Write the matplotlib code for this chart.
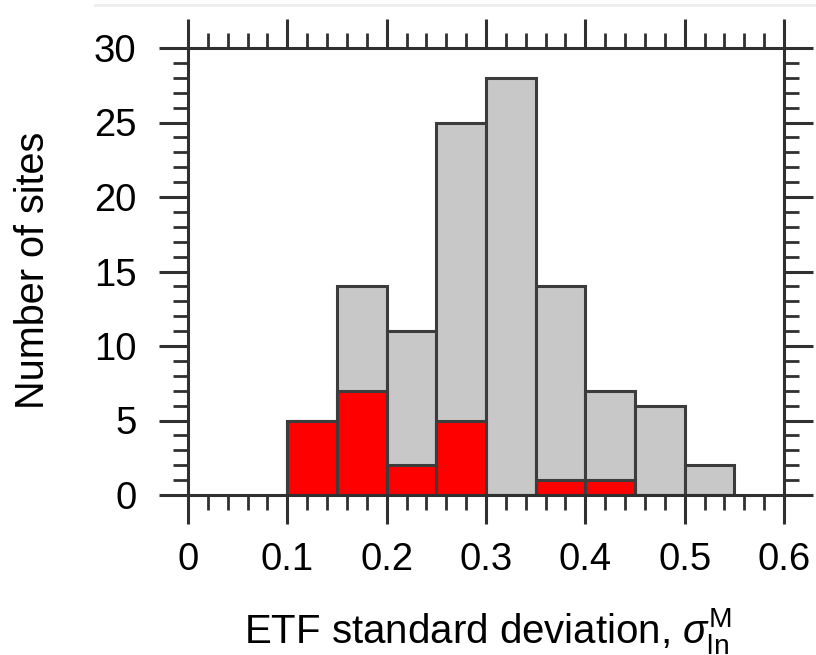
import matplotlib
matplotlib.use("Agg")
import matplotlib.pyplot as plt
from matplotlib.ticker import MultipleLocator, FixedLocator
from matplotlib.lines import Line2D

plt.rcParams['font.family'] = ['Liberation Sans', 'DejaVu Sans']
plt.rcParams['mathtext.fontset'] = 'custom'
plt.rcParams['mathtext.rm'] = 'Liberation Sans'
plt.rcParams['mathtext.it'] = 'Liberation Sans:italic'

# Data
bin_left = [0.10, 0.15, 0.20, 0.25, 0.30, 0.35, 0.40, 0.45, 0.50]
bin_width = 0.05
all_sites = [5, 14, 11, 25, 28, 14, 7, 6, 2]
subset_sites = [5, 7, 2, 5, 0, 1, 1, 0, 0]
xticks = [0, 0.1, 0.2, 0.3, 0.4, 0.5, 0.6]
xticklabels = ['0', '0.1', '0.2', '0.3', '0.4', '0.5', '0.6']
yticks = [0, 5, 10, 15, 20, 25, 30]

W, H = 816, 655
fig = plt.figure(figsize=(W / 100, H / 100), dpi=100)
ax = fig.add_axes([188 / W, 1 - 495 / H, (784 - 188) / W, (495 - 48) / H])

edge = '#3c3c3c'
ax.bar(bin_left, all_sites, width=bin_width, align='edge', color='#c8c8c8',
       edgecolor=edge, linewidth=2.2, zorder=2)
ax.bar(bin_left, subset_sites, width=bin_width, align='edge', color='#ff0000',
       edgecolor=edge, linewidth=2.2, zorder=3)

ax.set_xlim(0, 0.6)
ax.set_ylim(0, 30)
ax.xaxis.set_major_locator(FixedLocator(xticks))
ax.set_xticklabels(xticklabels)
ax.xaxis.set_minor_locator(MultipleLocator(0.02))
ax.yaxis.set_major_locator(FixedLocator(yticks))
ax.yaxis.set_minor_locator(MultipleLocator(1))

for sp in ax.spines.values():
    sp.set_linewidth(2.2)
    sp.set_color('#303030')
    sp.set_zorder(5)

fs = 27.5
ax.tick_params(which='major', direction='out', length=21, width=2.2, color='#303030',
               top=True, right=True, labelsize=fs, pad=13)
ax.tick_params(which='minor', direction='out', length=10.5, width=2.0, color='#303030',
               top=True, right=True)
ax.tick_params(axis='y', which='major', pad=16)

ax.set_xlabel(r'ETF standard deviation, $\sigma_{\mathrm{ln}}^{\mathrm{M}}$', fontsize=29)
ax.set_ylabel('Number of sites', fontsize=28.5)
ax.xaxis.set_label_coords((488 - 188) / (784 - 188), -(631 - 495) / (495 - 48))
ax.yaxis.set_label_coords(-(188 - 33) / (784 - 188), (495 - 270) / (495 - 48))
ax.xaxis.label.set_va('center')
ax.yaxis.label.set_va('center')

fig.add_artist(Line2D([95 / W, 1.0], [1 - 5 / H, 1 - 5 / H], transform=fig.transFigure,
                      color='#eeeeee', linewidth=2))

fig.savefig('out.png', dpi=100)
